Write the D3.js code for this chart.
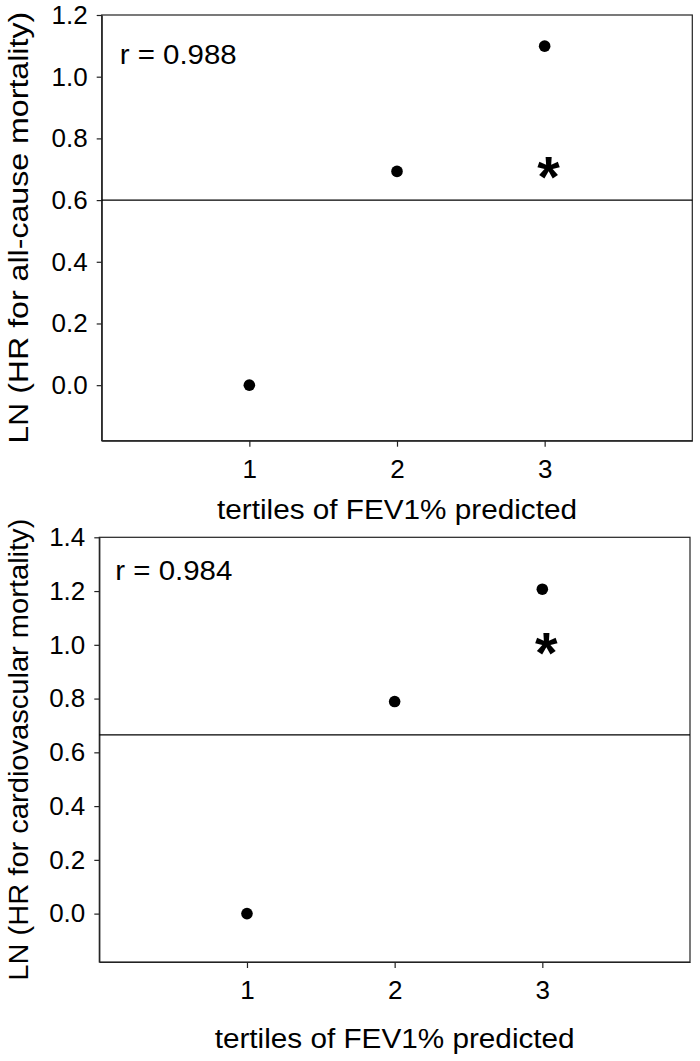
<!DOCTYPE html>
<html>
<head>
<meta charset="utf-8">
<script src="https://cdn.jsdelivr.net/npm/d3@7"></script>
<style>
  body { margin: 0; background: #fff; }
  svg text { font-family: "Liberation Sans", Arial, sans-serif; fill: #000; }
</style>
</head>
<body>
<div id="chart"></div>
<script>
// data
const tertiles = [1, 2, 3]
const xTickValues = [1, 2, 3]
const xLabel = "tertiles of FEV1% predicted"

const allCauseLnHR = [0.0, 0.693, 1.099]
const allCauseTicks = [0.0, 0.2, 0.4, 0.6, 0.8, 1.0, 1.2]
const allCauseRefLine = 0.6
const allCauseStar = 0.70
const allCauseR = "r = 0.988"
const allCauseYLabel = "LN (HR for all-cause mortality)"

const cardioLnHR = [0.0, 0.789, 1.207]
const cardioTicks = [0.0, 0.2, 0.4, 0.6, 0.8, 1.0, 1.2, 1.4]
const cardioRefLine = 0.665
const cardioStar = 1.0
const cardioR = "r = 0.984"
const cardioYLabel = "LN (HR for cardiovascular mortality)"

var width = 700, height = 1061
var svg = d3.select("#chart").append("svg").attr("width", width).attr("height", height)

// one panel = one scatter with a box, a reference line and an asterisk
function drawPanel(opt) {
  var x = d3.scaleLinear().domain([0, 4]).range([opt.left, opt.right])
  var y = d3.scaleLinear().domain([-0.18, opt.yMax]).range([opt.bottom, opt.top])
  var g = svg.append("g")

  // frame
  g.append("rect")
    .attr("x", opt.left).attr("y", opt.top)
    .attr("width", opt.right - opt.left).attr("height", opt.bottom - opt.top)
    .attr("fill", "none").attr("stroke", "#222").attr("stroke-width", 1.2)

  var yAxis = g.append("g")
    .attr("transform", "translate(" + opt.left + ",0)")
    .call(d3.axisLeft(y).tickValues(opt.ticks).tickFormat(d3.format(".1f"))
      .tickSize(5).tickSizeOuter(0).tickPadding(9))
  var xAxis = g.append("g")
    .attr("transform", "translate(0," + opt.bottom + ")")
    .call(d3.axisBottom(x).tickValues(xTickValues).tickFormat(d3.format("d"))
      .tickSize(6).tickSizeOuter(0).tickPadding(13))
  ;[yAxis, xAxis].forEach(function(a) {
    a.select(".domain").attr("stroke", "#222").attr("stroke-width", 1.2)
    a.selectAll(".tick line").attr("stroke", "#222").attr("stroke-width", 1.2)
    a.selectAll(".tick text").attr("font-size", "26px").attr("fill", "#000")
      .attr("font-family", "Liberation Sans, Arial, sans-serif")
  })

  // reference line
  g.append("line")
    .attr("x1", opt.left).attr("x2", opt.right)
    .attr("y1", y(opt.ref)).attr("y2", y(opt.ref))
    .attr("stroke", "#000").attr("stroke-width", 1.2)

  // points
  g.selectAll(".dot")
    .data(tertiles.map(function(t, i) { return { t: t, v: opt.values[i] } }))
    .enter().append("circle")
    .attr("class", "dot")
    .attr("cx", function(d) { return x(d.t) })
    .attr("cy", function(d) { return y(d.v) })
    .attr("r", 5.8)
    .attr("fill", "#000")

  // significance asterisk next to tertile 3
  g.append("text")
    .attr("x", x(3) + 4)
    .attr("y", y(opt.star) + 28)
    .attr("text-anchor", "middle")
    .attr("font-size", "58px")
    .attr("font-weight", "bold")
    .text("*")

  // correlation label
  g.append("text")
    .attr("x", opt.left + opt.rdx)
    .attr("y", opt.top + opt.rdy)
    .attr("font-size", "27px")
    .attr("textLength", 117).attr("lengthAdjust", "spacingAndGlyphs")
    .text(opt.r)

  // axis titles
  g.append("text")
    .attr("x", (opt.left + opt.right) / 2)
    .attr("y", opt.bottom + opt.xlabDy)
    .attr("text-anchor", "middle")
    .attr("font-size", "27px")
    .attr("textLength", 360).attr("lengthAdjust", "spacingAndGlyphs")
    .text(xLabel)

  g.append("text")
    .attr("transform", "translate(28," + ((opt.top + opt.bottom) / 2) + ") rotate(-90)")
    .attr("text-anchor", "middle")
    .attr("font-size", "27px")
    .attr("textLength", opt.ylabLen).attr("lengthAdjust", "spacingAndGlyphs")
    .text(opt.ylabel)
}

drawPanel({
  left: 101.7, right: 692.3, top: 15, bottom: 440.7,
  yMax: 1.2, ticks: allCauseTicks, values: allCauseLnHR,
  ref: allCauseRefLine, star: allCauseStar, r: allCauseR,
  rdx: 18, rdy: 49, xlabDy: 78.5,
  ylabel: allCauseYLabel, ylabLen: 432
})

drawPanel({
  left: 99.3, right: 690, top: 537.3, bottom: 962,
  yMax: 1.4, ticks: cardioTicks, values: cardioLnHR,
  ref: cardioRefLine, star: cardioStar, r: cardioR,
  rdx: 16, rdy: 43, xlabDy: 86,
  ylabel: cardioYLabel, ylabLen: 462
})
</script>
</body>
</html>
